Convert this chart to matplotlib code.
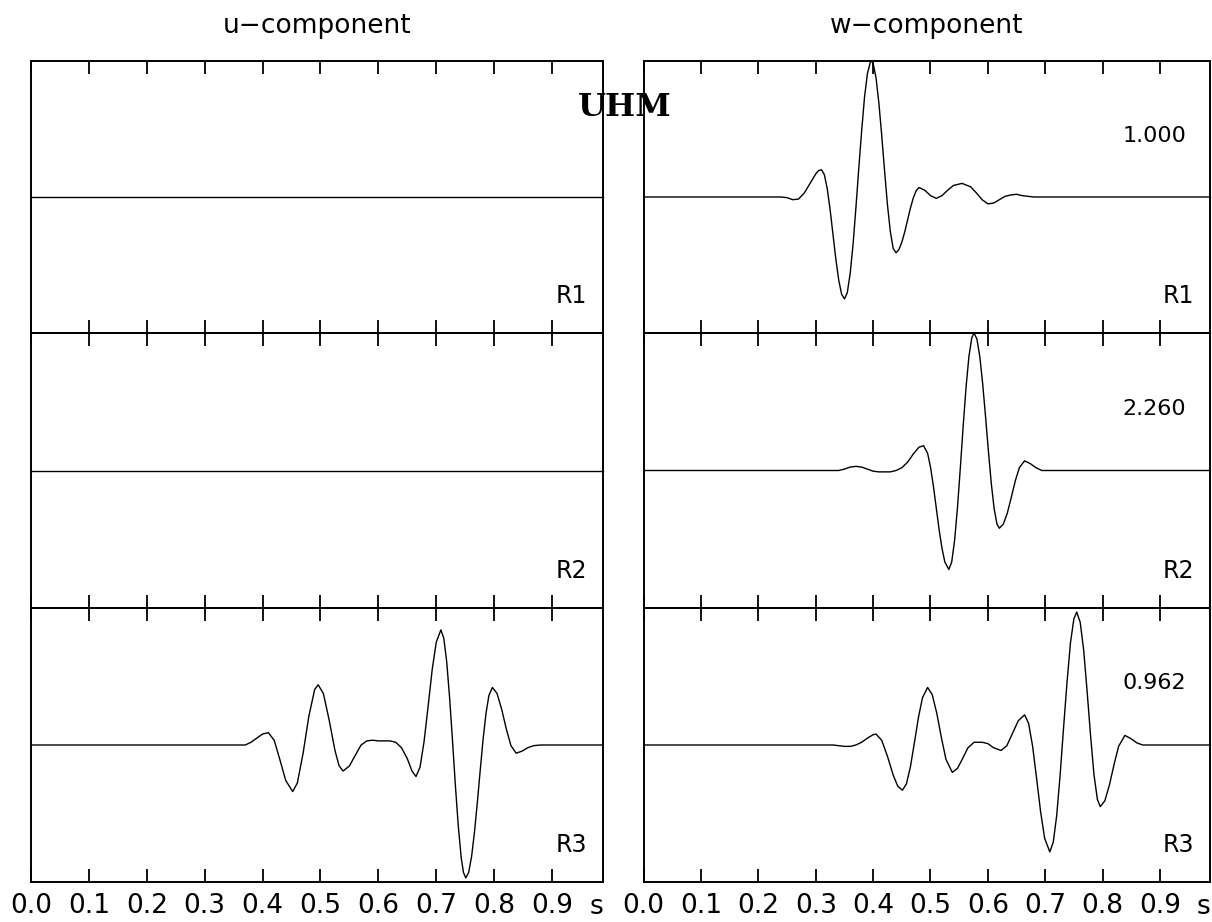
import matplotlib.pyplot as plt

# time axis ticks and labels
tick_times = [0.0, 0.1, 0.2, 0.3, 0.4, 0.5, 0.6, 0.7, 0.8, 0.9]
tick_labels = ['0.0', '0.1', '0.2', '0.3', '0.4', '0.5', '0.6', '0.7', '0.8', '0.9']
t_end = 0.988

receivers = ['R1', 'R2', 'R3']
w_scales = ['1.000', '2.260', '0.962']

# u-component: R1 and R2 are flat
t_u_flat = [0.0, 0.988]
a_u_flat = [0.0, 0.0]

# u-component, R3
t_u_r3 = [0.0, 0.36, 0.37, 0.38, 0.39, 0.40, 0.41, 0.42, 0.43, 0.44, 0.452,
          0.46, 0.47, 0.48, 0.49, 0.496, 0.505, 0.515, 0.525, 0.532, 0.539,
          0.55, 0.56, 0.57, 0.58, 0.59, 0.60, 0.61, 0.62, 0.63, 0.64, 0.65,
          0.658, 0.665, 0.672, 0.679, 0.686, 0.693, 0.70, 0.708, 0.713, 0.718,
          0.723, 0.728, 0.733, 0.738, 0.743, 0.747, 0.751, 0.756, 0.761, 0.766,
          0.771, 0.776, 0.781, 0.786, 0.791, 0.797, 0.805, 0.813, 0.821, 0.829,
          0.838, 0.848, 0.858, 0.868, 0.88, 0.988]
a_u_r3 = [0.0, 0.0, 0.0, 0.02, 0.05, 0.08, 0.09, 0.035, -0.109, -0.259, -0.34,
          -0.278, -0.06, 0.212, 0.405, 0.44, 0.376, 0.182, -0.039, -0.15, -0.19,
          -0.153, -0.076, -0.001, 0.03, 0.035, 0.03, 0.03, 0.03, 0.02, -0.02, -0.10,
          -0.19, -0.23, -0.161, 0.027, 0.285, 0.551, 0.751, 0.84, 0.78, 0.609,
          0.348, 0.035, -0.293, -0.59, -0.82, -0.931, -0.97, -0.93, -0.815, -0.636,
          -0.417, -0.181, 0.046, 0.234, 0.363, 0.42, 0.376, 0.261, 0.117, -0.005,
          -0.06, -0.045, -0.02, -0.005, 0.0, 0.0]

# w-component, R1
t_w_r1 = [0.0, 0.24, 0.25, 0.26, 0.27, 0.28, 0.29, 0.30, 0.305, 0.31, 0.315,
          0.32, 0.325, 0.33, 0.335, 0.34, 0.345, 0.35, 0.355, 0.36, 0.365, 0.37,
          0.375, 0.38, 0.385, 0.39, 0.395, 0.3975, 0.40, 0.405, 0.41, 0.415, 0.42,
          0.425, 0.43, 0.435, 0.44, 0.445, 0.45, 0.455, 0.46, 0.465, 0.47, 0.475,
          0.48, 0.49, 0.50, 0.51, 0.52, 0.53, 0.54, 0.555, 0.57, 0.58, 0.59, 0.60,
          0.61, 0.62, 0.63, 0.64, 0.65, 0.66, 0.68, 0.988]
a_w_r1 = [0.0, 0.0, -0.005, -0.02, -0.015, 0.03, 0.10, 0.17, 0.195, 0.20, 0.164,
          0.061, -0.093, -0.275, -0.457, -0.611, -0.714, -0.75, -0.702, -0.562,
          -0.348, -0.078, 0.213, 0.487, 0.735, 0.906, 0.99, 1.0, 0.982, 0.878,
          0.691, 0.452, 0.189, -0.058, -0.255, -0.379, -0.41, -0.386, -0.333,
          -0.258, -0.17, -0.082, -0.007, 0.046, 0.07, 0.05, 0.01, -0.01, 0.01,
          0.05, 0.085, 0.10, 0.075, 0.03, -0.02, -0.05, -0.045, -0.02, 0.005,
          0.015, 0.02, 0.01, 0.0, 0.0]

# w-component, R2
t_w_r2 = [0.0, 0.34, 0.35, 0.36, 0.37, 0.38, 0.39, 0.40, 0.41, 0.42, 0.43, 0.44,
          0.45, 0.46, 0.47, 0.48, 0.488, 0.495, 0.50, 0.505, 0.51, 0.515, 0.52,
          0.525, 0.532, 0.537, 0.542, 0.547, 0.552, 0.557, 0.562, 0.567, 0.572,
          0.576, 0.581, 0.586, 0.591, 0.596, 0.601, 0.606, 0.611, 0.616, 0.62,
          0.627, 0.634, 0.641, 0.648, 0.655, 0.664, 0.674, 0.684, 0.694, 0.988]
a_w_r2 = [0.0, 0.0, 0.01, 0.025, 0.03, 0.025, 0.01, -0.005, -0.01, -0.01, -0.01,
          0.0, 0.02, 0.06, 0.12, 0.17, 0.18, 0.125, 0.025, -0.111, -0.27, -0.429,
          -0.565, -0.665, -0.72, -0.665, -0.51, -0.272, 0.018, 0.323, 0.605,
          0.829, 0.965, 1.0, 0.955, 0.827, 0.63, 0.391, 0.139, -0.094, -0.279,
          -0.391, -0.42, -0.39, -0.309, -0.193, -0.073, 0.021, 0.07, 0.05, 0.02,
          0.0, 0.0]

# w-component, R3
t_w_r3 = [0.0, 0.33, 0.34, 0.35, 0.36, 0.37, 0.38, 0.39, 0.40, 0.405, 0.415,
          0.425, 0.435, 0.443, 0.451, 0.458, 0.465, 0.472, 0.479, 0.486, 0.495,
          0.503, 0.511, 0.519, 0.527, 0.538, 0.547, 0.556, 0.565, 0.576, 0.59,
          0.60, 0.61, 0.623, 0.633, 0.643, 0.653, 0.664, 0.671, 0.678, 0.685,
          0.692, 0.699, 0.708, 0.714, 0.72, 0.726, 0.732, 0.738, 0.744, 0.75,
          0.755, 0.761, 0.767, 0.773, 0.779, 0.785, 0.791, 0.796, 0.804, 0.812,
          0.82, 0.828, 0.839, 0.85, 0.86, 0.87, 0.988]
a_w_r3 = [0.0, 0.0, -0.005, -0.01, -0.01, 0.0, 0.02, 0.05, 0.075, 0.08, 0.034,
          -0.083, -0.22, -0.301, -0.33, -0.284, -0.159, 0.018, 0.201, 0.345, 0.42,
          0.368, 0.231, 0.054, -0.105, -0.20, -0.171, -0.099, -0.022, 0.02, 0.02,
          0.01, -0.02, -0.04, -0.006, 0.085, 0.177, 0.22, 0.159, -0.008, -0.244,
          -0.488, -0.681, -0.78, -0.71, -0.516, -0.22, 0.126, 0.457, 0.745, 0.922,
          0.97, 0.896, 0.695, 0.395, 0.073, -0.216, -0.398, -0.45, -0.407, -0.291,
          -0.143, -0.009, 0.07, 0.045, 0.015, 0.0, 0.0]

u_traces = [(t_u_flat, a_u_flat), (t_u_flat, a_u_flat), (t_u_r3, a_u_r3)]
w_traces = [(t_w_r1, a_w_r1), (t_w_r2, a_w_r2), (t_w_r3, a_w_r3)]

W, H = 1212, 922
fig = plt.figure(figsize=(W / 100, H / 100), dpi=100)
plt.rcParams['font.family'] = ['DejaVu Sans']

rows_px = [(61, 333), (333, 608), (608, 882)]
cols_px = [(31, 603), (643.7, 1210.4)]


def make_ax(col, row):
    x0, x1 = cols_px[col]
    top, bot = rows_px[row]
    ax = fig.add_axes([x0 / W, 1 - bot / H, (x1 - x0) / W, (bot - top) / H])
    ax.set_xlim(0, t_end)
    ax.set_ylim(-1, 1)
    ax.set_yticks([])
    ax.set_xticks(tick_times)
    ax.tick_params(axis='x', direction='in', top=True, bottom=True,
                   length=9.4, width=1.3, labelsize=19, pad=8,
                   labelbottom=(row == 2))
    if row == 2:
        ax.set_xticklabels(tick_labels)
        ax.text(0.976, -1.09, 's', ha='center', va='top', fontsize=19, clip_on=False)
    for sp in ax.spines.values():
        sp.set_linewidth(1.4)
    ax.patch.set_alpha(0)
    return ax


for col, traces in enumerate([u_traces, w_traces]):
    for row, (t, a) in enumerate(traces):
        ax = make_ax(col, row)
        ax.plot(t, a, color='black', lw=1.0, clip_on=False)
        ax.text(0.96, -0.73, receivers[row], ha='right', va='center', fontsize=17)
        if col == 1:
            ax.text(0.89, 0.45, w_scales[row], ha='center', va='center', fontsize=16)
        if row == 0:
            ax.set_title('u\u2212component' if col == 0 else 'w\u2212component',
                         fontsize=19, pad=20)

fig.text(625 / W, 1 - 108 / H, 'UHM', ha='center', va='center',
         fontsize=23, fontweight='bold', family='DejaVu Serif')

fig.savefig('out.png', dpi=100, facecolor='white')
